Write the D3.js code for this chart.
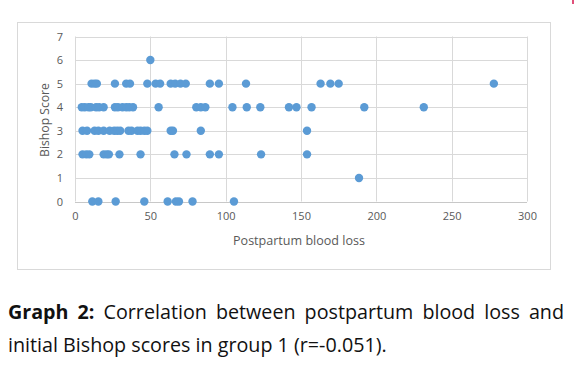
<!DOCTYPE html>
<html>
<head>
<meta charset="utf-8">
<script src="https://cdn.jsdelivr.net/npm/d3@7"></script>
<style>
  body { margin: 0; background: #fff; }
  svg { display: block; font-family: "Open Sans", "Noto Sans", sans-serif; }
</style>
</head>
<body>
<div id="chart"></div>
<script>
// Bishop score rows, blood loss values
var score6 = [50];
var score5 = [11, 13, 14.5, 26.5, 34, 36.5, 48, 53.5, 56.5, 63.5, 66.5, 70, 73.5, 89.5, 95.5, 113.5, 163, 169.5, 175, 278];
var score4 = [4.5, 6.5, 9, 10.5, 14, 16, 19, 26.5, 28.5, 31.5, 34, 36, 38.5, 55.5, 80.5, 83.5, 86.5, 104.5, 114, 123, 142, 147, 157, 192, 231.5];
var score3 = [5, 8, 13, 15.5, 19, 23, 26, 28, 30, 35.5, 37.5, 41.5, 43.5, 46, 48, 63.5, 65, 83.5, 154];
var score2 = [5, 7.5, 9.5, 19, 21, 22.5, 29.5, 43.5, 66, 74, 89.5, 95.5, 123.5, 154];
var score1 = [188.5];
var score0 = [11.5, 15.5, 27, 46, 61.5, 67, 69, 78, 105.5];

var xTicks = [0, 50, 100, 150, 200, 250, 300];
var yTicks = [0, 1, 2, 3, 4, 5, 6, 7];
var xTitle = "Postpartum blood loss";
var yTitle = "Bishop Score";
var captionBold = "Graph 2:";
var captionLine1 = "Correlation between postpartum blood loss and";
var captionLine2 = "initial Bishop scores in group 1 (r=-0.051).";

var rows = [score0, score1, score2, score3, score4, score5, score6];
var points = [];
rows.forEach(function(vals, s) {
    vals.forEach(function(v) { points.push({loss: v, score: s}); });
});

var W = 575, H = 373;
var svg = d3.select("#chart").append("svg")
    .attr("width", W)
    .attr("height", H);

// outer chart frame
svg.append("rect")
    .attr("x", 17.5).attr("y", 22.5)
    .attr("width", 533).attr("height", 247)
    .attr("fill", "#fff")
    .attr("stroke", "#d9d9d9");

// little pink mark at the top right corner
svg.append("rect")
    .attr("x", 572).attr("y", 0)
    .attr("width", 2).attr("height", 4)
    .attr("fill", "#e0507a");

var x = d3.scaleLinear().domain([0, 300]).range([75, 527]);
var y = d3.scaleLinear().domain([0, 7]).range([201.5, 36.5]);

// gridlines
svg.append("g").selectAll("line.v")
    .data(xTicks)
    .join("line")
    .attr("x1", function(d) { return Math.round(x(d)) + 0.5; })
    .attr("x2", function(d) { return Math.round(x(d)) + 0.5; })
    .attr("y1", y(7)).attr("y2", y(0))
    .attr("stroke", "#d9d9d9");

svg.append("g").selectAll("line.h")
    .data(yTicks)
    .join("line")
    .attr("x1", x(0)).attr("x2", x(300))
    .attr("y1", function(d) { return Math.round(y(d)) + 0.5; })
    .attr("y2", function(d) { return Math.round(y(d)) + 0.5; })
    .attr("stroke", function(d) { return d == 0 ? "#c8c8c8" : "#d9d9d9"; });

// axes (labels only)
var xAxis = d3.axisBottom(x).tickValues(xTicks).tickFormat(d3.format("d")).tickSize(0).tickPadding(0);
var yAxis = d3.axisLeft(y).tickValues(yTicks).tickFormat(d3.format("d")).tickSize(0).tickPadding(0);

var gx = svg.append("g")
    .attr("transform", "translate(0,212)")
    .call(xAxis);
var gy = svg.append("g")
    .attr("transform", "translate(63,0)")
    .call(yAxis);

[gx, gy].forEach(function(g) {
    g.select(".domain").remove();
    g.selectAll("text")
        .attr("fill", "#595959")
        .style("font-size", "11px")
        .style("font-family", "\"Open Sans\", sans-serif");
});
gx.selectAll("text").attr("dy", "0.71em");

// axis titles, fitted to the widths seen in the picture
function fitText(sel, width, base) {
    sel.style("font-size", base + "px");
    var w = sel.node().getComputedTextLength();
    sel.style("font-size", (base * width / w) + "px");
}

var xt = svg.append("text")
    .attr("x", 299).attr("y", 245)
    .attr("text-anchor", "middle")
    .attr("fill", "#595959")
    .text(xTitle);
fitText(xt, 132, 12);

var yt = svg.append("text")
    .attr("transform", "translate(49,120) rotate(-90)")
    .attr("text-anchor", "middle")
    .attr("fill", "#595959")
    .text(yTitle);
fitText(yt, 74, 12);

// points
svg.append("g").selectAll("circle")
    .data(points)
    .join("circle")
    .attr("cx", function(d) { return x(d.loss); })
    .attr("cy", function(d) { return y(d.score); })
    .attr("r", 4.2)
    .attr("fill", "#5b9bd5");

// caption, first line justified between 8 and 564
var capSize = 20;
var probe = svg.append("text")
    .style("font-size", capSize + "px")
    .text(captionLine2);
capSize = capSize * 379 / probe.node().getComputedTextLength();
probe.remove();

var words = [{t: "Graph", b: true}, {t: "2:", b: true}]
    .concat(captionLine1.split(" ").map(function(t) { return {t: t, b: false}; }));

var cap = svg.append("g")
    .style("font-size", capSize + "px")
    .attr("fill", "#111");

var wt = cap.selectAll("text.w")
    .data(words)
    .join("text")
    .attr("y", 319)
    .attr("font-weight", function(d) { return d.b ? "bold" : "normal"; })
    .text(function(d) { return d.t; });

var widths = [];
wt.each(function() { widths.push(this.getComputedTextLength()); });
var gap = (564 - 8 - d3.sum(widths)) / (words.length - 1);
var cx = 8;
wt.attr("x", function(d, i) {
    var px = cx;
    cx += widths[i] + gap;
    return px;
});

cap.append("text")
    .attr("x", 8).attr("y", 352)
    .text(captionLine2);
</script>
</body>
</html>
